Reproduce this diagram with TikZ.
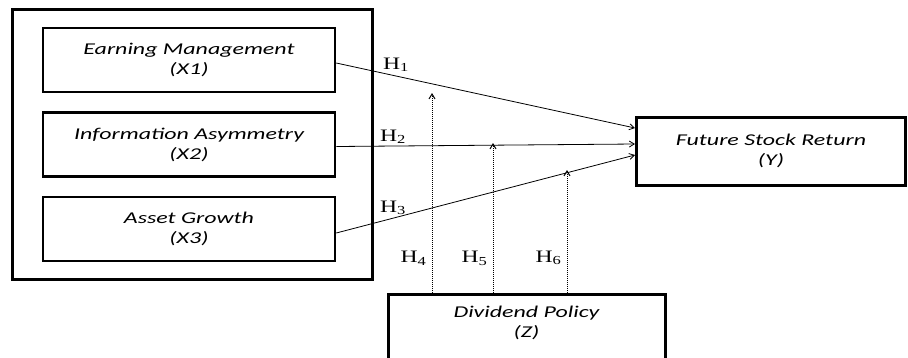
\documentclass[tikz,border=0pt]{standalone}
\usepackage{fontspec}
\setmainfont{Carlito}[FakeStretch=1.45]
\newfontfamily\hypfont{Liberation Serif}[FakeStretch=1.35]
\usetikzlibrary{positioning, calc, arrows.meta}

\begin{document}
\begin{tikzpicture}[x=1pt, y=-1pt,
    varbox/.style={draw, rectangle, line width=2.5pt, align=center, minimum width=292pt, minimum height=64pt, font=\fontsize{16.5}{20}\selectfont\itshape},
    outerbox/.style={draw, rectangle, line width=3pt, minimum width=360pt, minimum height=270pt},
    link/.style={-{Straight Barb[length=5pt, width=6pt]}, line width=0.8pt},
    modlink/.style={-{Straight Barb[length=5pt, width=6pt]}, line width=1pt, densely dotted},
    hyp/.style={font=\fontsize{17.5}{20}\selectfont\hypfont, inner sep=0pt}
]
    \useasboundingbox (0,0) rectangle (908,357);

    \node (outer) [outerbox] at (192,144) {};
    \node (x1) [varbox] at (189,60) {Earning Management\\(X1)};
    \node (x2) [varbox, below=18pt of x1] {Information Asymmetry\\(X2)};
    \node (x3) [varbox, below=18pt of x2] {Asset Growth\\(X3)};
    \node (y) [varbox, minimum width=269pt, minimum height=68pt, line width=3pt] at (771,151) {Future Stock Return\\(Y)};
    \node (z) [varbox, minimum width=277pt, line width=3pt, anchor=north, inner ysep=12pt, text depth=40pt] at (526.5,293) {Dividend Policy\\(Z)};

    % points where the moderating arrows stop
    \coordinate (m4) at (432,93);
    \coordinate (m5) at (493,143);
    \coordinate (m6) at (567,170);

    \draw [link] ([yshift=-3pt]x1.east) -- ([yshift=23pt]y.west) node [hyp, pos=0.2, above=4pt] {H\textsubscript{1}};
    \draw [link] ([yshift=-2pt]x2.east) -- ([yshift=7pt]y.west) node [hyp, pos=0.19, above=2pt] {H\textsubscript{2}};
    \draw [link] ([yshift=-4pt]x3.east) -- ([yshift=-4pt]y.west) node [hyp, pos=0.19, above=3pt] {H\textsubscript{3}};

    \draw [modlink] (z.north -| m4) -- (m4) node [hyp, pos=0.175, left=5pt] {H\textsubscript{4}};
    \draw [modlink] (z.north -| m5) -- (m5) node [hyp, pos=0.233, left=5pt] {H\textsubscript{5}};
    \draw [modlink] (z.north -| m6) -- (m6) node [hyp, pos=0.285, left=5pt] {H\textsubscript{6}};
\end{tikzpicture}
\end{document}
